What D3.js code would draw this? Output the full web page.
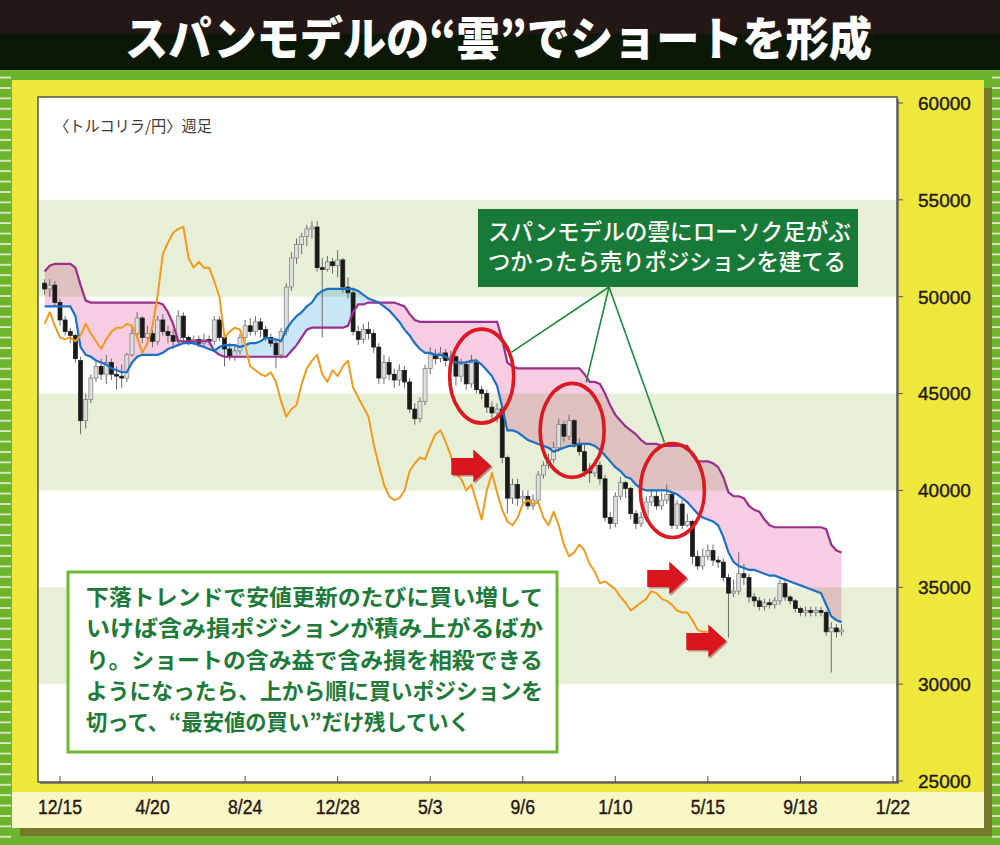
<!DOCTYPE html>
<html>
<head>
<meta charset="utf-8">
<script src="https://cdn.jsdelivr.net/npm/d3@7"></script>
<style>
  body { margin: 0; background: #6cb42c; }
  svg { display: block; }
</style>
</head>
<body>
<svg width="1000" height="845"></svg>
<script>
// weekly TRY/JPY candles, first week 2013-11-24
var firstWeek = new Date(Date.UTC(2013, 10, 24));

var open = [
  50700,50400,50600,49700,48800,48200,48000,46700,43600,44700,
  45800,46400,46000,46600,46000,45900,45800,47000,48100,48900,
  47900,48100,47700,48800,48200,48000,47700,49000,47900,47700,
  47800,47600,47800,47700,48800,47900,47300,46900,47200,47900,
  48500,48200,48700,48300,47900,47600,47000,48200,50500,52000,
  52700,53100,53500,53600,51500,51400,51800,51600,51900,50500,
  50200,48200,47800,48300,48100,47400,45800,46600,46000,45700,
  46200,45600,44200,43700,44600,46300,47000,46800,47100,46700,
  46900,45900,46500,45500,46600,45200,45000,44300,44000,44200,
  41700,39600,40300,39600,39700,39200,39500,40800,41300,41600,
  42200,43400,42800,43600,42400,42000,41000,40900,41300,40600,
  38600,38300,39700,40400,40100,38800,38300,38600,39400,39700,
  39200,39500,39800,38200,39300,38200,38400,36600,36100,36600,
  36900,36400,36300,35500,34700,34800,35700,35500,34500,34300,
  34000,34200,34100,34300,35200,34500,34300,33900,33700,33800,
  33700,33800,33700,32700,32900,32700
];
var high = [
  50900,50900,50800,49900,49000,48400,48100,46900,45000,46000,
  46700,46800,47000,46800,46400,46500,47100,48500,49200,49000,
  48500,48300,49000,49100,48500,48300,49300,49200,48000,48000,
  48000,48100,48000,49000,49000,48100,47600,47500,48100,48800,
  48900,49000,48900,48500,48100,47800,48400,50700,52300,53000,
  53300,53700,53900,53900,52000,52100,52000,52400,52000,51000,
  50400,48500,48600,48700,48300,47600,47000,46900,46300,46500,
  46400,45800,44500,44800,46500,47400,47300,47400,47300,47200,
  47000,46800,46700,47000,46800,45400,45200,44600,44500,44400,
  41800,40600,40600,40000,40000,39800,41000,41500,41900,42500,
  43700,43600,43900,43700,42700,42400,41400,41600,41500,40800,
  38900,39900,40700,40500,40200,39000,38900,39700,40000,40000,
  39900,40300,39900,39500,39500,38800,38500,36900,37000,37200,
  37200,36600,36500,35700,35400,36800,36200,35700,34700,34500,
  34400,34400,34500,35400,35400,34600,34400,34000,34000,34000,
  34000,34000,33800,33200,33100,33100
];
var low = [
  50100,50000,49500,48500,48000,47600,46600,42900,43200,44500,
  45600,45700,45500,45700,45200,45300,45600,46900,47900,47600,
  47500,47400,47500,48000,47600,47300,47500,47700,47500,47500,
  47400,47400,47500,47500,47700,46400,46700,46700,47000,47700,
  48000,48000,47900,47700,47400,46300,46800,48000,50300,51700,
  52200,52600,53000,51300,47900,51300,51200,51000,50200,49900,
  48000,47500,47600,47800,47100,45500,45500,45700,45300,45400,
  45300,44000,43400,43500,44400,46000,46500,46600,46400,46500,
  45400,45600,45200,45300,45000,44700,44000,43700,43500,41400,
  38800,39300,39200,39200,39000,39000,39300,40600,41100,41400,
  42000,42500,42600,42200,41800,40700,40400,40700,40300,38400,
  38000,38100,39500,39600,38500,38000,38100,38400,39200,39000,
  39000,39300,38000,38000,38000,38100,36200,35900,35900,36400,
  36100,36000,35300,32400,34500,34600,35100,34200,34000,33800,
  33800,33900,33900,34100,34300,34100,33700,33500,33500,33500,
  33500,33500,32500,30600,32400,32500
];
var close = [
  50400,50600,49700,48800,48200,48000,46800,43600,44700,45800,
  46400,46000,46600,46000,45900,45800,47000,48100,48900,47900,
  48100,47700,48800,48200,48000,47700,49000,47900,47700,47800,
  47600,47800,47700,48800,47900,47300,46900,47200,47900,48500,
  48200,48700,48300,47900,47600,47000,48200,50500,52000,52700,
  53100,53500,53600,51500,51400,51800,51600,51900,50500,50200,
  48200,47800,48300,48100,47400,45800,46600,46000,45700,46200,
  45600,44200,43700,44600,46300,47000,46800,47100,46700,46900,
  45900,46500,45500,46600,45200,45000,44300,44000,44200,41700,
  39600,40300,39600,39700,39200,39500,40800,41300,41600,42200,
  43400,42800,43600,42400,42000,41000,40900,41300,40600,38600,
  38300,39700,40400,40100,38800,38300,38600,39400,39700,39200,
  39500,39800,38200,39300,38200,38400,36600,36100,36600,36900,
  36400,36300,35500,34700,34800,35700,35500,34500,34300,34000,
  34200,34100,34300,35200,34500,34300,33900,33700,33800,33700,
  33800,33700,32700,32900,32700,32800
];

// span model lines
var spanA = [
  49500,49500,49500,49500,49500,49500,49000,47400,47000,46900,
  46700,46600,46500,46300,46200,46100,46100,46600,46900,47000,
  47000,47000,47000,47100,47300,47400,47500,47600,47600,47600,
  47500,47400,47300,47200,47400,47500,47500,47500,47400,47500,
  47600,47600,47700,47900,47800,47800,47700,48300,48700,49000,
  49200,49500,49700,50100,50300,50400,50400,50400,50400,50400,
  50400,50300,50100,49900,49800,49700,49500,49300,49000,48700,
  48300,48000,47600,47300,47100,47100,47000,47000,46900,46700,
  46600,46600,46600,46700,46700,46500,46200,45900,45400,44300,
  43100,43100,43000,42800,42600,42500,42400,42300,42200,42000,
  42100,42200,42300,42300,42400,42400,42400,42300,42100,41800,
  41500,41200,41000,40700,40600,40300,40100,40000,40000,40000,
  40000,40000,39900,39800,39600,39400,39100,38800,38600,38500,
  38400,38200,37600,36800,36300,36100,36000,35900,35900,35800,
  35700,35600,35600,35500,35400,35300,35200,35100,35000,34900,
  34800,34700,34100,33500,33300,33200
];
var spanB = [
  51300,51600,51700,51700,51700,51700,51500,50600,49800,49700,
  49700,49700,49700,49700,49700,49700,49700,49700,49700,49700,
  49700,49700,49700,49600,49200,48600,47700,47700,47700,47700,
  47700,47700,47700,47200,47000,46900,46900,46900,46900,46900,
  46900,46900,46900,46900,46900,46900,46900,46900,47200,47500,
  47900,48300,48400,48400,48400,48400,48400,48400,48400,48500,
  49200,49600,49600,49700,49700,49700,49700,49700,49700,49600,
  49500,49100,48800,48700,48700,48700,48700,48700,48700,48700,
  48700,48700,48700,48700,48700,48700,48700,48700,48700,47800,
  46600,46400,46300,46300,46300,46300,46300,46300,46300,46300,
  46300,46300,46300,46300,46300,46000,45600,45600,45500,45000,
  44400,43900,43600,43300,43100,42900,42600,42400,42400,42400,
  42300,42300,42300,42300,42300,42300,41800,41500,41500,41500,
  41400,41200,40700,39900,39700,39700,39600,39200,39000,38900,
  38500,38200,38100,38100,38100,38100,38100,38100,38100,38100,
  38100,38100,38000,37200,36900,36800
];
// lagging span (orange), drawn from the first week
var lagging = [
  48600,49200,48500,47900,47800,47900,47700,48000,48600,48100,
  47700,47300,47800,48200,48400,48400,48600,48500,47900,47100,
  47600,48500,50100,52200,52800,53300,53500,53600,52000,51500,
  51800,51500,51500,50800,50000,47900,48200,48400,48300,47500,
  46400,46200,46000,45900,46100,45600,44600,43800,44200,44400,
  45500,46300,46700,47000,46000,45600,46200,45900,46400,46700,
  45300,44800,44300,43800,42400,41300,40300,39700,39500,39600,
  40000,41000,41400,41700,41600,42300,42900,43100,42500,41800,
  40900,40600,40000,40300,39400,38500,40000,40900,39900,39000,
  38400,38200,38600,39300,39500,39300,39400,38600,38200,38900,
  38200,37200,36600,36800,37200,36900,36200,35800,35200,35300,
  35100,34900,34500,34200,33800,34000,34200,34400,34800,34700,
  34400,34300,34100,33800,33700,33700,33300,32800,32700,32700
];

var tickDates = ["2013-12-15","2014-04-20","2014-08-24","2014-12-28","2015-05-03",
                 "2015-09-06","2016-01-10","2016-05-15","2016-09-18","2017-01-22"];
var yTicks = [25000,30000,35000,40000,45000,50000,55000,60000];
var greenBands = [[50000,55000],[40000,45000],[30000,35000]];

// annotations: week index / price
var circles = [{i: 85, v: 45900}, {i: 102.6, v: 43100}, {i: 122.1, v: 40000}];
var pointerOffsets = [[30,-24],[14,-48],[-8,-48]];
var arrows = [{i: 79.1, v: 41260}, {i: 117.2, v: 35480}, {i: 124.8, v: 32230}];

var titleText = "スパンモデルの“雲”でショートを形成";
var pairLabel = "〈トルコリラ/円〉週足";
var calloutLines = ["スパンモデルの雲にローソク足がぶ", "つかったら売りポジションを建てる"];
var noteLines = [
  "下落トレンドで安値更新のたびに買い増して",
  "いけば含み損ポジションが積み上がるばか",
  "り。ショートの含み益で含み損を相殺できる",
  "ようになったら、上から順に買いポジションを",
  "切って、“最安値の買い”だけ残していく"
];

var JP = "'Noto Sans CJK JP', 'Noto Sans CJK SC', sans-serif";
var NUM = "'Liberation Sans', Arial, sans-serif";

var svg = d3.select("svg");
var defs = svg.append("defs");

// outer frame
var pat = defs.append("pattern").attr("id", "stripes")
  .attr("patternUnits", "userSpaceOnUse").attr("width", 12).attr("height", 10.4);
pat.append("rect").attr("width", 12).attr("height", 10.4).attr("fill", "#6cb42c");
pat.append("rect").attr("y", 4).attr("width", 12).attr("height", 1.6).attr("fill", "#f3efe2");

svg.append("rect").attr("width", 1000).attr("height", 845).attr("fill", "#6cb42c");
svg.append("rect").attr("x", 0).attr("y", 72).attr("width", 11).attr("height", 773).attr("fill", "url(#stripes)");
svg.append("rect").attr("x", 992).attr("y", 72).attr("width", 8).attr("height", 773).attr("fill", "url(#stripes)");

svg.append("rect").attr("width", 1000).attr("height", 34).attr("fill", "#231815");
svg.append("rect").attr("y", 34).attr("width", 1000).attr("height", 36).attr("fill", "#0b1806");

svg.append("text")
  .attr("x", 125).attr("y", 55)
  .attr("textLength", 747).attr("lengthAdjust", "spacingAndGlyphs")
  .style("font-family", JP).style("font-weight", 900).style("font-size", "46px")
  .attr("fill", "#fff")
  .text(titleText);

svg.append("rect").attr("x", 20).attr("y", 88).attr("width", 972).attr("height", 748).attr("fill", "#77782c");
svg.append("rect").attr("x", 12).attr("y", 80).attr("width", 972).attr("height", 748).attr("fill", "#efe83c");
svg.append("rect").attr("x", 12).attr("y", 792).attr("width", 972).attr("height", 36).attr("fill", "#fbf6c6");

// plot
var M = {left: 38, right: 897, top: 97, bottom: 782};

var x = d3.scaleUtc()
  .domain([new Date("2013-12-15"), new Date("2017-01-22")])
  .range([60, 893]);
var y = d3.scaleLinear().domain([25000, 60000]).range([781, 103]);

var weeks = close.map(function(d, i) { return d3.utcWeek.offset(firstWeek, i); });
var n = weeks.length;
var xIdx = d3.scaleLinear().domain([0, n - 1]).range([x(weeks[0]), x(weeks[n - 1])]);

svg.append("rect")
  .attr("x", M.left + 2).attr("y", M.top + 2)
  .attr("width", M.right - M.left).attr("height", M.bottom - M.top)
  .attr("fill", "#8d8a55");
svg.append("rect")
  .attr("x", M.left).attr("y", M.top)
  .attr("width", M.right - M.left).attr("height", M.bottom - M.top)
  .attr("fill", "#fff");

defs.append("clipPath").attr("id", "plotClip")
  .append("rect").attr("x", M.left).attr("y", M.top)
  .attr("width", M.right - M.left).attr("height", M.bottom - M.top);

var plot = svg.append("g").attr("clip-path", "url(#plotClip)");

plot.selectAll("rect.band")
  .data(greenBands)
  .join("rect")
  .attr("class", "band")
  .attr("x", M.left).attr("width", M.right - M.left)
  .attr("y", function(d) { return y(d[1]); })
  .attr("height", function(d) { return y(d[0]) - y(d[1]); })
  .attr("fill", "#e7f0d7");

// cloud
var cloud = d3.area()
  .x(function(d, i) { return xIdx(i); })
  .y0(function(d, i) { return y(spanA[i]); })
  .y1(function(d, i) { return y(spanB[i]); });
var aboveA = d3.area()
  .x(function(d, i) { return xIdx(i); })
  .y0(M.top)
  .y1(function(d, i) { return y(spanA[i]); });
var belowA = d3.area()
  .x(function(d, i) { return xIdx(i); })
  .y0(M.bottom)
  .y1(function(d, i) { return y(spanA[i]); });

defs.append("clipPath").attr("id", "clipAbove").append("path").attr("d", aboveA(spanA));
defs.append("clipPath").attr("id", "clipBelow").append("path").attr("d", belowA(spanA));

plot.append("path")
  .attr("d", cloud(spanA))
  .attr("clip-path", "url(#clipAbove)")
  .attr("fill", "#f6cde2")
  .style("mix-blend-mode", "multiply");
plot.append("path")
  .attr("d", cloud(spanA))
  .attr("clip-path", "url(#clipBelow)")
  .attr("fill", "#c8e6f6")
  .style("mix-blend-mode", "multiply");

// candles
var candle = plot.append("g").selectAll("g")
  .data(d3.range(n))
  .join("g");

candle.append("line")
  .attr("x1", function(i) { return xIdx(i); })
  .attr("x2", function(i) { return xIdx(i); })
  .attr("y1", function(i) { return y(high[i]); })
  .attr("y2", function(i) { return y(low[i]); })
  .attr("stroke", "#6a6a6a")
  .attr("stroke-width", 1);

candle.append("rect")
  .attr("x", function(i) { return xIdx(i) - 2; })
  .attr("width", 4)
  .attr("y", function(i) { return y(Math.max(open[i], close[i])); })
  .attr("height", function(i) { return Math.max(1, Math.abs(y(open[i]) - y(close[i]))); })
  .attr("fill", function(i) { return close[i] < open[i] ? "#1a1a1a" : "#dedede"; })
  .attr("stroke", function(i) { return close[i] < open[i] ? "#1a1a1a" : "#7a7a7a"; })
  .attr("stroke-width", 0.7);

// lines
function idxLine() {
  return d3.line()
    .x(function(d, i) { return xIdx(i); })
    .y(function(d) { return y(d); });
}
plot.append("path").attr("d", idxLine()(spanB))
  .attr("fill", "none").attr("stroke", "#9a2f8e").attr("stroke-width", 2.2);
plot.append("path").attr("d", idxLine()(spanA))
  .attr("fill", "none").attr("stroke", "#1d6fc2").attr("stroke-width", 2.2);
plot.append("path").attr("d", idxLine()(lagging))
  .attr("fill", "none").attr("stroke", "#f29a1d").attr("stroke-width", 2)
  .attr("stroke-linejoin", "round");

// frame
svg.append("rect")
  .attr("x", M.left).attr("y", M.top)
  .attr("width", M.right - M.left).attr("height", M.bottom - M.top)
  .attr("fill", "none").attr("stroke", "#4a4a4a").attr("stroke-width", 1.4);

// y axis on the right
var yAxis = svg.append("g");
yAxis.selectAll("line")
  .data(yTicks)
  .join("line")
  .attr("x1", M.right).attr("x2", M.right + 6)
  .attr("y1", function(d) { return y(d); })
  .attr("y2", function(d) { return y(d); })
  .attr("stroke", "#555");
yAxis.selectAll("text")
  .data(yTicks)
  .join("text")
  .attr("x", 918)
  .attr("y", function(d) { return y(d); })
  .attr("dy", "0.36em")
  .style("font-family", NUM).style("font-size", "19px")
  .attr("fill", "#231815")
  .attr("stroke", "#231815").attr("stroke-width", 0.4)
  .text(function(d) { return d; });

// x axis
var fmt = d3.utcFormat("%-m/%-d");
var tickD = tickDates.map(function(s) { return new Date(s); });
var xAxis = svg.append("g");
xAxis.selectAll("line")
  .data(tickD)
  .join("line")
  .attr("x1", function(d) { return x(d); })
  .attr("x2", function(d) { return x(d); })
  .attr("y1", M.bottom).attr("y2", M.bottom - 6)
  .attr("stroke", "#555");
xAxis.selectAll("text")
  .data(tickD)
  .join("text")
  .attr("x", function(d) { return x(d); })
  .attr("y", 814)
  .attr("text-anchor", "middle")
  .style("font-family", NUM).style("font-size", "20px")
  .attr("fill", "#231815")
  .attr("stroke", "#231815").attr("stroke-width", 0.4)
  .text(function(d) { return fmt(d); })
  .each(function() {
    var w = this.getComputedTextLength();
    d3.select(this).attr("textLength", w * 0.88).attr("lengthAdjust", "spacingAndGlyphs");
  });

svg.append("text")
  .attr("x", 54).attr("y", 132)
  .attr("textLength", 158).attr("lengthAdjust", "spacingAndGlyphs")
  .style("font-family", JP).style("font-size", "15.5px")
  .attr("fill", "#3a3a3a")
  .text(pairLabel);

// red circles and pointer lines
var callout = {x: 478, y: 209, w: 380, h: 78, tipX: 609, tipY: 287};

svg.append("g").selectAll("line")
  .data(circles)
  .join("line")
  .attr("x1", callout.tipX).attr("y1", callout.tipY)
  .attr("x2", function(d, k) { return xIdx(d.i) + pointerOffsets[k][0]; })
  .attr("y2", function(d, k) { return y(d.v) + pointerOffsets[k][1]; })
  .attr("stroke", "#1c8a3c").attr("stroke-width", 1.6);

svg.append("g").selectAll("ellipse")
  .data(circles)
  .join("ellipse")
  .attr("cx", function(d) { return xIdx(d.i); })
  .attr("cy", function(d) { return y(d.v); })
  .attr("rx", 32).attr("ry", 47)
  .attr("fill", "none").attr("stroke", "#dc1820").attr("stroke-width", 3.6);

// red arrows
function arrowPath(x0, cy) {
  var w = 40, h = 33;
  return "M" + x0 + "," + (cy - 8) +
    "L" + (x0 + 22) + "," + (cy - 8) +
    "L" + (x0 + 22) + "," + (cy - h / 2) +
    "L" + (x0 + w) + "," + cy +
    "L" + (x0 + 22) + "," + (cy + h / 2) +
    "L" + (x0 + 22) + "," + (cy + 9) +
    "L" + x0 + "," + (cy + 9) + "Z";
}
var arrowG = svg.append("g");
arrowG.selectAll("path.sh")
  .data(arrows)
  .join("path")
  .attr("class", "sh")
  .attr("d", function(d) { return arrowPath(xIdx(d.i) + 1.5, y(d.v) + 1.5); })
  .attr("fill", "#8c1015").attr("opacity", 0.45);
arrowG.selectAll("path.ar")
  .data(arrows)
  .join("path")
  .attr("class", "ar")
  .attr("d", function(d) { return arrowPath(xIdx(d.i), y(d.v)); })
  .attr("fill", "#d9161d");

// callout box
svg.append("rect")
  .attr("x", callout.x).attr("y", callout.y)
  .attr("width", callout.w).attr("height", callout.h)
  .attr("fill", "#187a39");
svg.append("g").selectAll("text")
  .data(calloutLines)
  .join("text")
  .attr("x", 488)
  .attr("y", function(d, k) { return 240 + k * 30; })
  .attr("textLength", function(d, k) { return k === 0 ? 363 : 358; })
  .attr("lengthAdjust", "spacingAndGlyphs")
  .style("font-family", JP).style("font-size", "22.5px").style("font-weight", 500)
  .attr("fill", "#fff")
  .text(function(d) { return d; });

// note box
svg.append("rect")
  .attr("x", 68).attr("y", 572).attr("width", 489).attr("height", 180)
  .attr("fill", "#fff").attr("stroke", "#6fb830").attr("stroke-width", 3);
svg.append("g").selectAll("text")
  .data(noteLines)
  .join("text")
  .attr("x", 86)
  .attr("y", function(d, k) { return 605 + k * 31.3; })
  .attr("textLength", function(d, k) { return k < 4 ? 457 : 384; })
  .attr("lengthAdjust", "spacingAndGlyphs")
  .style("font-family", JP).style("font-size", "22px").style("font-weight", 700)
  .attr("fill", "#1d7a3a")
  .text(function(d) { return d; });
</script>
</body>
</html>
